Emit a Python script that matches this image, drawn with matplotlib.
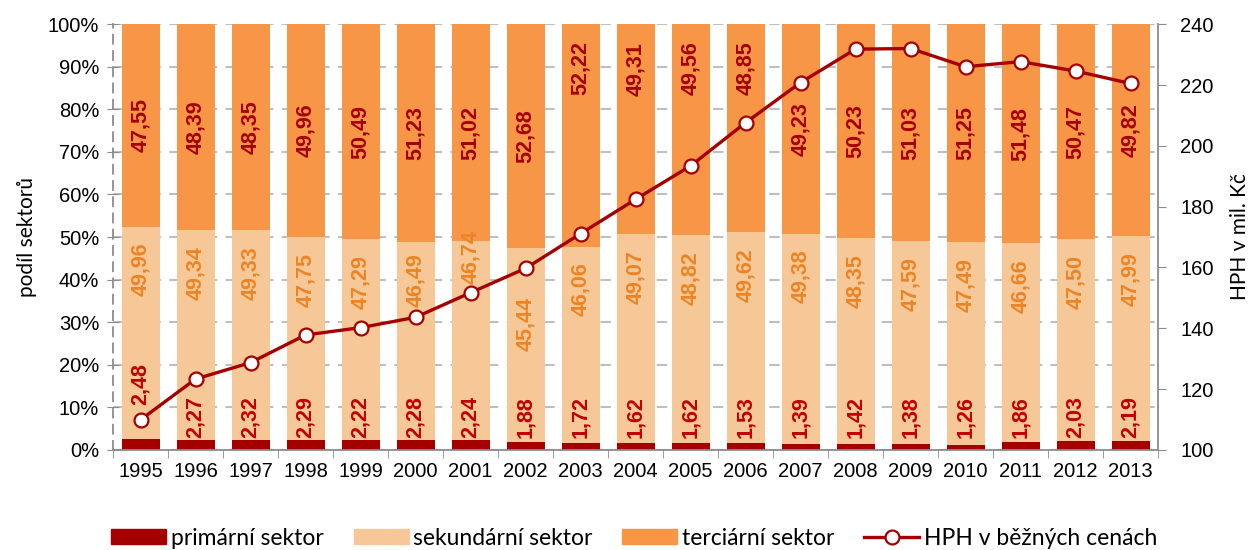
import matplotlib
matplotlib.use("Agg")
import matplotlib.pyplot as plt
import numpy as np
from matplotlib.patches import Patch
from matplotlib.lines import Line2D

years = [str(y) for y in range(1995, 2014)]
primarni = [2.48, 2.27, 2.32, 2.29, 2.22, 2.28, 2.24, 1.88, 1.72, 1.62,
            1.62, 1.53, 1.39, 1.42, 1.38, 1.26, 1.86, 2.03, 2.19]
sekundarni = [49.96, 49.34, 49.33, 47.75, 47.29, 46.49, 46.74, 45.44, 46.06, 49.07,
              48.82, 49.62, 49.38, 48.35, 47.59, 47.49, 46.66, 47.50, 47.99]
terciarni = [47.55, 48.39, 48.35, 49.96, 50.49, 51.23, 51.02, 52.68, 52.22, 49.31,
             49.56, 48.85, 49.23, 50.23, 51.03, 51.25, 51.48, 50.47, 49.82]
hph = [109.9, 123.3, 128.7, 137.8, 140.2, 143.6, 151.7, 159.7, 171.1, 182.4,
       193.4, 207.6, 220.8, 231.8, 232.0, 226.0, 227.7, 224.6, 220.5]

c_prim = "#A50000"
c_sek = "#F6C797"
c_ter = "#F79646"
c_line = "#A50000"
c_grid = "#BFBFBF"
c_axis = "#8C8C8C"

plt.rcParams["font.family"] = ["Liberation Sans", "DejaVu Sans"]
legend_font = ["Lato", "DejaVu Sans"]

fig = plt.figure(figsize=(12.56, 5.5), dpi=100)
ax = fig.add_axes([0.09, 0.182, 0.832, 0.774])
ax2 = ax.twinx()

x = np.arange(len(years))
p = np.array(primarni)
s = np.array(sekundarni)
t = np.array(terciarni)

ax.set_axisbelow(True)
ax.bar(x, p, width=0.69, color=c_prim, zorder=2)
ax.bar(x, s, width=0.69, bottom=p, color=c_sek, zorder=2)
ax.bar(x, t, width=0.69, bottom=p + s, color=c_ter, zorder=2)

ax.set_xlim(-0.5, len(years) - 0.5)
ax.set_ylim(0, 100)
ax.set_yticks(np.arange(0, 101, 10))
ax.set_yticklabels([f"{v}%" for v in range(0, 101, 10)], fontsize=14.5)
ax.set_xticks(x)
ax.set_xticklabels(years, fontsize=14.5)
ax.set_xticks(np.arange(-0.5, len(years), 1), minor=True)
ax.tick_params(axis="x", which="major", length=0, pad=9)
ax.tick_params(axis="x", which="minor", length=6, color=c_axis, direction="out")
ax.tick_params(axis="y", length=8, color=c_axis, direction="inout", pad=6)
ax.yaxis.grid(True, color=c_grid, linestyle=(0, (5, 4)), linewidth=1.5)

for side in ["top", "right"]:
    ax.spines[side].set_visible(False)
ax.spines["left"].set_color(c_axis)
ax.spines["left"].set_linestyle((0, (5, 4)))
ax.spines["left"].set_linewidth(1.3)
ax.spines["bottom"].set_color(c_axis)
ax.spines["bottom"].set_linewidth(1.3)
ax.set_ylabel("podíl sektorů", fontsize=15, family=legend_font, labelpad=8)

# right axis with the line
ax2.plot(x, hph, color=c_line, linewidth=2.4, marker="o", markersize=10,
         markerfacecolor="white", markeredgecolor=c_line, markeredgewidth=1.6, zorder=5)
ax2.set_ylim(100, 240)
ax2.set_yticks(np.arange(100, 241, 20))
ax2.tick_params(axis="y", labelsize=14.5, length=6, color=c_axis, direction="out", pad=10)
for side in ["top", "left", "bottom"]:
    ax2.spines[side].set_visible(False)
ax2.spines["right"].set_color(c_axis)
ax2.spines["right"].set_linewidth(1.3)
ax2.set_ylabel("HPH v mil. Kč", fontsize=15, family=legend_font, labelpad=12)

# data labels
fmt = lambda v: f"{v:.2f}".replace(".", ",")
ter_top = {2003: 89.7, 2004: 89.4, 2005: 89.7, 2006: 89.7}
sek_top = {2000: 46.2, 2001: 51.6, 2002: 35.9}
prim_top = {1995: 20.4}
lab = dict(rotation=90, ha="center", fontsize=15.5, fontweight="bold", zorder=6)

for i, yr in enumerate(range(1995, 2014)):
    top_s = p[i] + s[i]
    yt = ter_top.get(yr, top_s + t[i] / 2)
    ax.text(i, yt, fmt(t[i]), va="center", color="#A50000", **lab)
    if yr in sek_top:
        ax.text(i, sek_top[yr], fmt(s[i]), va="top", color="#ED8424", **lab)
    else:
        ax.annotate(fmt(s[i]), (i, top_s), xytext=(0, -11.5), textcoords="offset points",
                    va="top", color="#ED8424", **lab)
    ax.text(i, prim_top.get(yr, 12.7), fmt(p[i]), va="top", color="#C00000", **lab)

handles = [
    Patch(color=c_prim, label="primární sektor"),
    Patch(color=c_sek, label="sekundární sektor"),
    Patch(color=c_ter, label="terciární sektor"),
    Line2D([], [], color=c_line, linewidth=2.4, marker="o", markersize=10,
           markerfacecolor="white", markeredgecolor=c_line, markeredgewidth=1.6,
           label="HPH v běžných cenách"),
]
fig.legend(handles=handles, loc="lower center", bbox_to_anchor=(0.505, -0.035), ncol=4,
           frameon=False, prop={"family": legend_font, "size": 16.5},
           handlelength=2.4, handleheight=0.65, handletextpad=0.2, columnspacing=1.3)

fig.savefig("out.png", dpi=100)
